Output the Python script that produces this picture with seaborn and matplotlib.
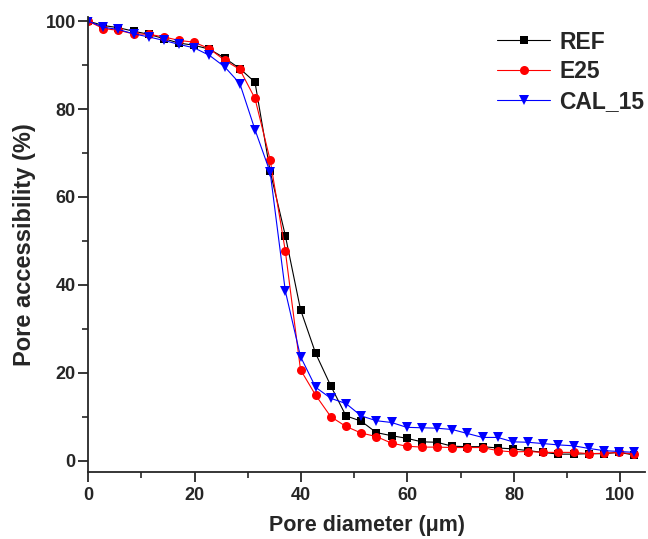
import numpy as np
import pandas as pd
import seaborn as sns
import matplotlib
matplotlib.use("Agg")
import matplotlib.pyplot as plt
from matplotlib.ticker import MultipleLocator

# pore diameter (um)
diameter = [0, 2.85, 5.7, 8.55, 11.4, 14.25, 17.1, 19.95, 22.8, 25.65, 28.5, 31.35,
            34.2, 37.05, 39.9, 42.75, 45.6, 48.45, 51.3, 54.15, 57.0, 59.85, 62.7,
            65.55, 68.4, 71.25, 74.1, 76.95, 79.8, 82.65, 85.5, 88.35, 91.2, 94.05,
            96.9, 99.75, 102.6]

ref = [100, 99.0, 98.5, 97.7, 97.0, 96.0, 95.0, 94.5, 93.6, 91.6, 89.2, 86.1,
       65.8, 51.2, 34.4, 24.4, 17.0, 10.2, 9.0, 6.4, 5.7, 5.1, 4.3, 4.2, 3.3,
       3.2, 3.2, 2.9, 2.7, 2.3, 1.9, 1.5, 1.5, 1.6, 1.6, 1.9, 1.3]
e25 = [100, 98.3, 97.9, 97.1, 97.0, 96.4, 95.6, 95.2, 93.7, 91.1, 89.0, 82.4,
       68.4, 47.7, 20.7, 14.9, 10.0, 7.8, 6.3, 5.5, 4.0, 3.3, 3.1, 3.1, 3.0,
       3.0, 3.0, 2.3, 2.0, 2.1, 1.9, 1.9, 1.9, 1.6, 1.7, 1.9, 1.5]
cal15 = [100, 98.6, 98.1, 97.1, 96.4, 95.6, 94.7, 93.9, 92.2, 89.6, 85.8, 75.3,
         65.6, 38.6, 23.7, 16.7, 14.2, 13.0, 10.2, 9.1, 8.7, 7.6, 7.5, 7.4, 7.1,
         6.2, 5.3, 5.3, 4.3, 4.2, 3.9, 3.6, 3.4, 2.8, 2.3, 2.1, 1.9]

series = ["REF", "E25", "CAL_15"]
colors = {"REF": "black", "E25": "red", "CAL_15": "blue"}
markers = {"REF": "s", "E25": "o", "CAL_15": "v"}
msizes = {"REF": 5.5, "E25": 6.5, "CAL_15": 7}

df = pd.concat([
    pd.DataFrame({"d": diameter, "acc": v, "sample": name})
    for name, v in zip(series, [ref, e25, cal15])
])

sns.set_style("ticks")
plt.rcParams["font.family"] = ["Liberation Sans", "DejaVu Sans"]
plt.rcParams["font.weight"] = "bold"

fig = plt.figure(figsize=(6.48, 5.39), dpi=100)
ax = fig.add_axes([0.136, 0.124, 0.86, 0.845])

for name in series:
    sns.lineplot(data=df[df["sample"] == name], x="d", y="acc", ax=ax,
                 color=colors[name], marker=markers[name], markersize=msizes[name],
                 markeredgewidth=0, linewidth=0.8, label=name)

ax.set_xlim(0, 104.7)
ax.set_ylim(-2.6, 101)
ax.xaxis.set_major_locator(MultipleLocator(20))
ax.xaxis.set_minor_locator(MultipleLocator(10))
ax.yaxis.set_major_locator(MultipleLocator(20))
ax.yaxis.set_minor_locator(MultipleLocator(10))
ax.tick_params(which="major", length=7, width=1.3, labelsize=13, direction="out")
ax.tick_params(which="minor", length=4, width=1.2, direction="out")
ax.tick_params(axis="y", which="major", pad=2)
for lab in ax.get_xticklabels() + ax.get_yticklabels():
    lab.set_fontweight("bold")
sns.despine(ax=ax)
for s in ["left", "bottom"]:
    ax.spines[s].set_linewidth(1.3)

ax.set_xlabel("Pore diameter (\u03bcm)", fontsize=15.5, fontweight="bold", labelpad=8)
ax.set_ylabel("Pore accessibility (%)", fontsize=17, fontweight="bold", labelpad=7)

leg = ax.legend(loc="upper right", bbox_to_anchor=(1.035, 1.015), frameon=False,
                fontsize=16.5, handlelength=2.3, handletextpad=0.4, labelspacing=0.3)
for t in leg.get_texts():
    t.set_fontweight("bold")

fig.savefig("out.png", dpi=100)
